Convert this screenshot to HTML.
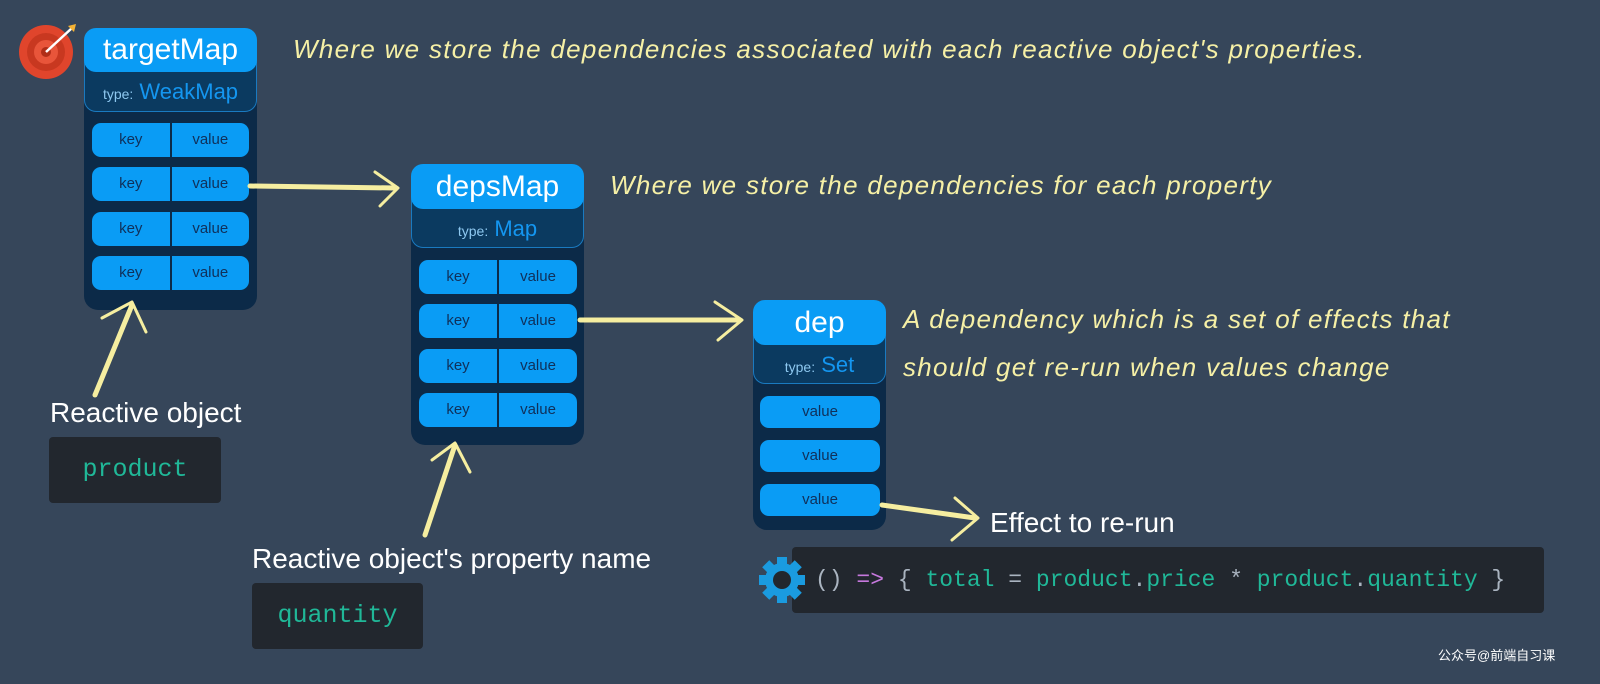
<!DOCTYPE html>
<html><head><meta charset="utf-8"><style>
body{margin:0;width:1600px;height:684px;background:#36465a;position:relative;overflow:hidden;font-family:"Liberation Sans","Noto Sans CJK SC",sans-serif}
.a{position:absolute}
.box{position:absolute;background:#0c2a48;border-radius:14px}
.hd{position:absolute;left:0;right:0;top:0;background:#0a9cf5;border-radius:12px;color:#fff;text-align:center;font-size:30px;z-index:2}
.ty{position:absolute;left:0;right:0;background:#0b3a60;border:1px solid #1a7ac0;border-radius:0 0 12px 12px;text-align:center;color:#1496f0;font-size:22px;z-index:1}
.ty small{font-size:14px;color:#8ec8f0}
.row{position:absolute;height:34px;background:#0a9cf5;border-radius:9px;color:#10305a;font-size:15px;line-height:34px;display:flex}
.row span{flex:1;text-align:center}
.row span+span{border-left:2px solid #0c2a48}
.note{position:absolute;color:#f6f0a6;font-style:italic;font-size:26px;white-space:nowrap;letter-spacing:1.3px}
.lbl{position:absolute;color:#fff;font-size:28px;white-space:nowrap}
.code{position:absolute;background:#22272e;border-radius:4px;font-family:"Liberation Mono",monospace;font-size:25px;color:#20b898;white-space:nowrap}
</style></head><body>
<svg class="a" style="left:18px;top:22px" width="62" height="58"><circle cx="28" cy="30" r="27" fill="#e0452c"/><circle cx="28" cy="30" r="19" fill="#c83820"/><circle cx="28" cy="30" r="12" fill="#e8553a"/><circle cx="28" cy="30" r="5" fill="#b02e18"/><line x1="28" y1="30" x2="54" y2="6" stroke="#fff" stroke-width="2.5"/><path d="M50 4 l8 -2 l-2 8z" fill="#f5b335"/></svg>

<div class="box" style="left:84px;top:28px;width:173px;height:282px">
<div class="hd" style="height:44px;line-height:44px">targetMap</div>
<div class="ty" style="top:32px;height:50px;line-height:62px"><small>type:</small> WeakMap</div>
</div>
<div class="row" style="left:92px;top:123px;width:157px"><span>key</span><span>value</span></div>
<div class="row" style="left:92px;top:167px;width:157px"><span>key</span><span>value</span></div>
<div class="row" style="left:92px;top:212px;width:157px"><span>key</span><span>value</span></div>
<div class="row" style="left:92px;top:256px;width:157px"><span>key</span><span>value</span></div>

<div class="box" style="left:411px;top:164px;width:173px;height:281px">
<div class="hd" style="height:45px;line-height:45px">depsMap</div>
<div class="ty" style="top:33px;height:49px;line-height:62px"><small>type:</small> Map</div>
</div>
<div class="row" style="left:419px;top:260px;width:158px"><span>key</span><span>value</span></div>
<div class="row" style="left:419px;top:304px;width:158px"><span>key</span><span>value</span></div>
<div class="row" style="left:419px;top:349px;width:158px"><span>key</span><span>value</span></div>
<div class="row" style="left:419px;top:393px;width:158px"><span>key</span><span>value</span></div>

<div class="box" style="left:753px;top:300px;width:133px;height:230px">
<div class="hd" style="height:45px;line-height:45px">dep</div>
<div class="ty" style="top:33px;height:49px;line-height:62px"><small>type:</small> Set</div>
</div>
<div class="row" style="left:760px;top:396px;width:120px;height:32px;line-height:32px"><span>value</span></div>
<div class="row" style="left:760px;top:440px;width:120px;height:32px;line-height:32px"><span>value</span></div>
<div class="row" style="left:760px;top:484px;width:120px;height:32px;line-height:32px"><span>value</span></div>

<div class="note" style="left:293px;top:34px">Where we store the dependencies associated with each reactive object's properties.</div>
<div class="note" style="left:610px;top:170px">Where we store the dependencies for each property</div>
<div class="note" style="left:903px;top:304px">A dependency which is a set of effects that</div>
<div class="note" style="left:903px;top:352px">should get re-run when values change</div>

<div class="lbl" style="left:50px;top:397px">Reactive object</div>
<div class="code" style="left:49px;top:437px;width:172px;height:66px;line-height:66px;text-align:center">product</div>
<div class="lbl" style="left:252px;top:543px">Reactive object's property name</div>
<div class="code" style="left:252px;top:583px;width:171px;height:66px;line-height:66px;text-align:center">quantity</div>
<div class="lbl" style="left:990px;top:507px">Effect to re-run</div>
<div class="code" style="left:792px;top:547px;width:729px;padding-left:23px;height:66px;line-height:66px;font-size:23px;color:#aab4c0">() <span style="color:#c678dd">=&gt;</span> { <span style="color:#20b898">total</span> = <span style="color:#20b898">product</span>.<span style="color:#20b898">price</span> * <span style="color:#20b898">product</span>.<span style="color:#20b898">quantity</span> }</div>
<svg class="a" style="left:757px;top:555px" width="50" height="50" viewBox="0 0 50 50"><g fill="#1a9be0"><circle cx="25" cy="25" r="17"/><rect x="20" y="2" width="10" height="46"/><rect x="20" y="2" width="10" height="46" transform="rotate(45 25 25)"/><rect x="20" y="2" width="10" height="46" transform="rotate(90 25 25)"/><rect x="20" y="2" width="10" height="46" transform="rotate(135 25 25)"/></g><circle cx="25" cy="25" r="9" fill="#22272e"/></svg>

<svg class="a" style="left:0;top:0" width="1600" height="684" fill="none" stroke="#f6eea0" stroke-linecap="round" stroke-linejoin="round">
<g stroke-width="5"><line x1="250" y1="186" x2="395" y2="188"/><line x1="580" y1="320" x2="738" y2="320"/><line x1="882" y1="505" x2="975" y2="518"/><line x1="95" y1="395" x2="132" y2="305"/><line x1="425" y1="535" x2="455" y2="445"/></g>
<g stroke-width="3"><polyline points="375,172 398,188 380,206"/><polyline points="715,302 742,320 718,340"/><polyline points="955,498 978,518 952,540"/><polyline points="102,318 132,302 146,332"/><polyline points="432,460 455,443 470,472"/></g>
</svg>
<div class="a" style="left:1438px;top:645px;color:#fff;font-size:13px">公众号@前端自习课</div>
</body></html>
